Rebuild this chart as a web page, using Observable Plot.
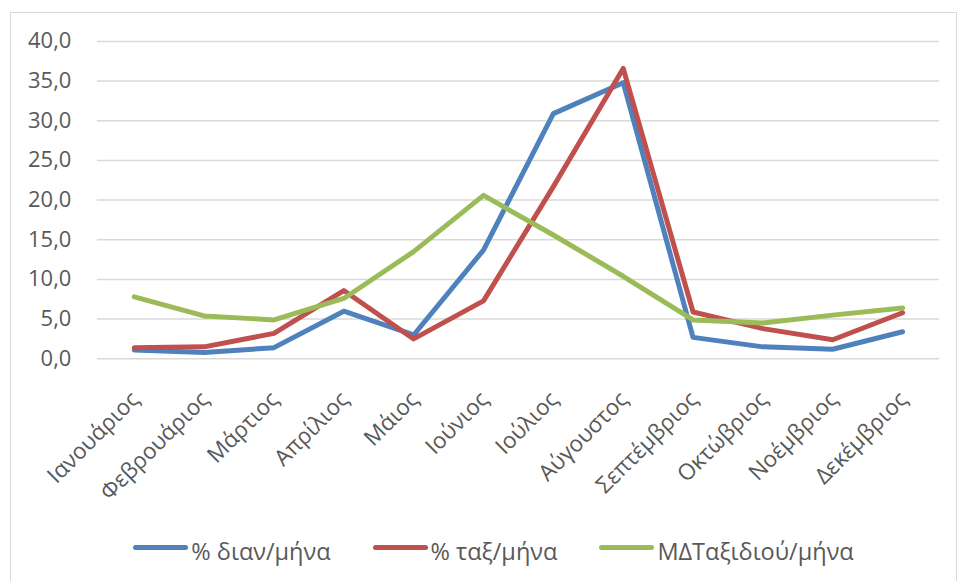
<!DOCTYPE html>
<html>
<head>
<meta charset="utf-8">
<script src="https://cdn.jsdelivr.net/npm/d3@7"></script>
<script src="https://cdn.jsdelivr.net/npm/@observablehq/plot@0.6"></script>
<style>
  html, body { margin: 0; padding: 0; background: #fff; overflow: hidden; }
  #frame {
    position: absolute; left: 10px; top: 12px; width: 947px; height: 600px;
    border: 1px solid #d9d9d9; box-sizing: border-box; background: #fff;
  }
  #chart svg { display: block; }
  #legend {
    display: flex; justify-content: center; align-items: center; gap: 42px;
    font-family: "Open Sans", sans-serif; font-size: 23.5px; color: #595959;
    margin-top: 13px; padding-left: 20px;
  }
  .item { display: flex; align-items: center; }
  .sw { width: 55px; height: 5px; border-radius: 3px; margin-right: 3px; margin-top: -6px; }
</style>
</head>
<body>
<div id="frame"><div id="chart"></div><div id="legend"></div></div>
<script>
const months = ["Ιανουάριος","Φεβρουάριος","Μάρτιος","Απρίλιος","Μάιος","Ιούνιος","Ιούλιος","Αύγουστος","Σεπτέμβριος","Οκτώβριος","Νοέμβριος","Δεκέμβριος"];
const seriesNames = ["% διαν/μήνα","% ταξ/μήνα","ΜΔΤαξιδιού/μήνα"];
const seriesColors = ["#4f81bd","#c0504d","#9bbb59"];
const pctDian = [1.1, 0.8, 1.4, 6.0, 3.0, 13.7, 30.9, 34.8, 2.7, 1.5, 1.2, 3.4];
const pctTax  = [1.4, 1.5, 3.2, 8.6, 2.5, 7.3, 21.7, 36.6, 5.9, 3.8, 2.4, 5.8];
const mdTax   = [7.8, 5.4, 4.9, 7.6, 13.5, 20.6, 15.6, 10.4, 4.9, 4.5, 5.5, 6.4];
const yTicks = [0, 5, 10, 15, 20, 25, 30, 35, 40];

const allSeries = [pctDian, pctTax, mdTax];
const data = [];
allSeries.forEach((vals, si) => vals.forEach((v, i) => data.push({month: months[i], value: v, series: seriesNames[si]})));

const fmt = d => d.toFixed(1).replace(".", ",");

const chart = Plot.plot({
  width: 947,
  height: 510,
  marginLeft: 86,
  marginRight: 17,
  marginTop: 28,
  marginBottom: 164,
  style: {fontFamily: "'Open Sans', sans-serif", color: "#595959", background: "#fff"},
  x: {type: "point", domain: months, padding: 0.5},
  y: {domain: [0, 40]},
  color: {domain: seriesNames, range: seriesColors},
  marks: [
    Plot.ruleY(yTicks, {stroke: "#d9d9d9", strokeWidth: 1.5}),
    Plot.axisY(yTicks, {tickSize: 0, tickPadding: 26, tickFormat: fmt, fontSize: 22, fill: "#595959", label: null}),
    Plot.axisX({tickSize: 0, tickRotate: -45, tickPadding: 37, fontSize: 22.5, fill: "#595959", label: null, dx: 1}),
    Plot.line(data, {x: "month", y: "value", z: "series", stroke: "series", strokeWidth: 5, strokeLinejoin: "round", strokeLinecap: "round"})
  ]
});
document.getElementById("chart").appendChild(chart);

const legend = document.getElementById("legend");
seriesNames.forEach((name, i) => {
  const it = document.createElement("div");
  it.className = "item";
  const sw = document.createElement("div");
  sw.className = "sw";
  sw.style.background = seriesColors[i];
  const tx = document.createElement("span");
  tx.textContent = name;
  it.appendChild(sw); it.appendChild(tx);
  legend.appendChild(it);
});
</script>
</body>
</html>
